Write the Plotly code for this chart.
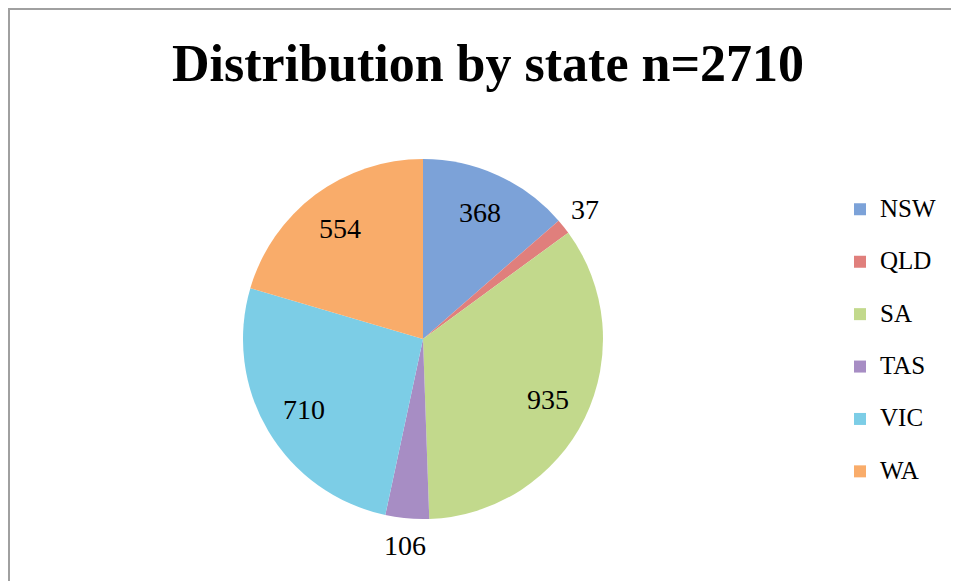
import math
import plotly.graph_objects as go

states = ["NSW", "QLD", "SA", "TAS", "VIC", "WA"]
counts = [368, 37, 935, 106, 710, 554]
colors = ["#7ca2d8", "#e07f7c", "#c2d98c", "#a78dc4", "#7ccde6", "#f9ac6a"]
label_outside = [False, True, False, True, False, False]
title_text = "Distribution by state n=2710"

# page has an 8px body margin, so the figure is drawn 8px in from the window edge
W, H = 951, 573
cx, cy, r = 415, 331, 180

# legend entries: larger glyphs, plus an empty second line to open up the entry spacing
legend_labels = ["<span style='font-size:25px'>" + s + "</span><br> " for s in states]

fig = go.Figure()
fig.add_trace(go.Pie(
    labels=legend_labels,
    values=counts,
    sort=False,
    direction="clockwise",
    rotation=0,
    marker=dict(colors=colors, line=dict(width=0)),
    textinfo="none",
    domain=dict(x=[(cx - r) / W, (cx + r) / W], y=[(H - cy - r) / H, (H - cy + r) / H]),
    customdata=states,
    hovertemplate="%{customdata}: %{value}<extra></extra>",
    showlegend=True,
))

# data labels placed around the pie from cumulative values
total = sum(counts)
annotations = []
cum = 0
for s, v, out in zip(states, counts, label_outside):
    mid = (cum + v / 2) / total * 2 * math.pi
    cum += v
    rr = r * (1.15 if out else 0.77)
    x = cx + rr * math.sin(mid)
    y = cy - rr * math.cos(mid)
    annotations.append(dict(text=str(v), x=x / W, y=1 - y / H, xref="paper", yref="paper",
                            xanchor="center", yanchor="middle", showarrow=False,
                            font=dict(family="Liberation Serif", size=28, color="#000000")))

fig.update_layout(
    width=W, height=H,
    margin=dict(l=0, r=0, t=0, b=0),
    paper_bgcolor="white",
    plot_bgcolor="white",
    title=dict(text="<b>" + title_text + "</b>", x=(488 - 8) / W, xanchor="center", y=1 - 55 / H, yanchor="middle",
               font=dict(family="Liberation Serif", size=52, color="#000000")),
    legend=dict(x=832 / W, xanchor="left", y=1 - 182.5 / H, yanchor="top", valign="top",
                font=dict(family="Liberation Serif", size=19, color="#000000"),
                bgcolor="rgba(0,0,0,0)"),
    annotations=annotations,
    shapes=[dict(type="rect", xref="paper", yref="paper", x0=1 / W, x1=1.05, y0=-0.05, y1=1 - 1 / H,
                 line=dict(color="#a0a0a0", width=2), fillcolor="rgba(0,0,0,0)")],
)

fig.write_html("out.html")
